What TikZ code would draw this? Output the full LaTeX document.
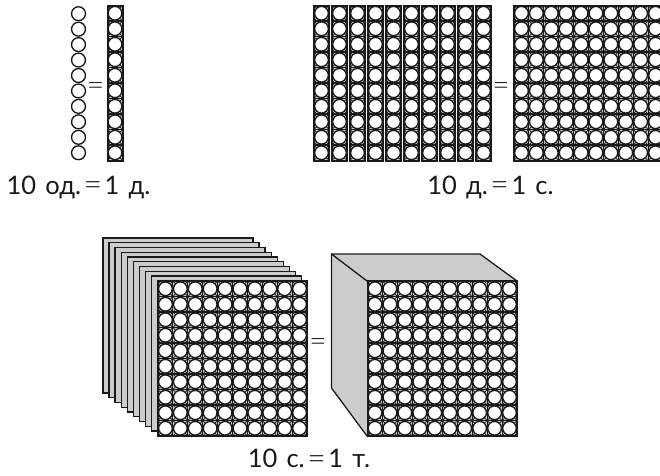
\documentclass[tikz,border=0pt]{standalone}
\usepackage{fontspec}
\setmainfont{Lato}
\newfontfamily\thinfont{Lato Light}
\tikzset{
  framed/.style={draw=black!90,line width=2pt},
  bead/.style={draw=black!90,line width=1.35pt,fill=white},
  sheet/.style={draw=black!90,line width=1.3pt,fill=black!20,line join=miter},
  cross/.style={draw=black!90,line width=0.7pt},
  label/.style={font=\fontsize{25.5}{28}\selectfont,text=black!90,inner sep=0pt,anchor=base},
  equal/.style={font=\thinfont\fontsize{30}{32}\selectfont,text=black!85,inner sep=0pt,anchor=base}
}
\newcommand{\wgap}{\hspace{.36em}}
\newcommand{\egap}{\hspace{.1em}}
\newcommand{\lighteq}{\raisebox{-1.6pt}{\thinfont\fontsize{32}{32}\selectfont =}}
% x0 y0 cols rows cellw cellh
\newcommand{\gridblock}[6]{%
  \fill[black!20] (#1,#2) rectangle ++({#3*#5},{#4*#6});
  \foreach \cx in {1,...,#3}{\foreach \cy in {1,...,#4}{%
    \pgfmathsetmacro{\xa}{#1+(\cx-1)*#5}\pgfmathsetmacro{\ya}{#2+(\cy-1)*#6}%
    \draw[cross] (\xa,\ya) -- ++(#5,#6) (\xa,\ya+#6) -- ++(#5,-#6);
    \draw[cross,line width=1.1pt] (\xa,\ya) -- ++(#5,0) (\xa,\ya) -- ++(0,#6);
  }}
  \foreach \cx in {1,...,#3}{\foreach \cy in {1,...,#4}{%
    \pgfmathsetmacro{\xa}{#1+(\cx-.5)*#5}\pgfmathsetmacro{\ya}{#2+(\cy-.5)*#6}%
    \draw[bead] (\xa,\ya) circle[radius=6.85];
  }}
  \draw[framed] (#1,#2) rectangle ++({#3*#5},{#4*#6});
}
\begin{document}
\begin{tikzpicture}[x=1pt,y=-1pt]
\clip (0,0) rectangle (660,475);
\fill[white] (0,0) rectangle (660,475);
% loose beads
\foreach \i in {0,...,9} \draw[bead] (78.5,{13.7+\i*15.45}) circle[radius=6.95];
\node[equal] (eqa) at (95.5,95) {=};
\gridblock{107.5}{5.5}{1}{10}{15}{15.5}
\node[label] (capa) at (78.5,194) {10\wgap од.\egap\lighteq\egap 1\wgap д.};
% ten bars
\foreach \i in {0,...,9} {\gridblock{\the\numexpr 314+\i*18\relax}{5.5}{1}{10}{15}{15.5}}
\node[equal] (eqb) at (501,95) {=};
\gridblock{514}{5.5}{10}{10}{14.9}{15.5}
\node[label] (capb) at (490.5,194) {10\wgap д.\egap\lighteq\egap 1\wgap с.};
% stack
\foreach \i in {0,...,8} {
  \pgfmathsetmacro{\sx}{103+\i*6.05}\pgfmathsetmacro{\sy}{238+\i*4.75}
  \draw[sheet] (\sx,\sy) rectangle ++(150,155);
}
\gridblock{158}{281}{10}{10}{14.9}{15.5}
\node[equal] (eqc) at (318,351) {=};
% cube
\draw[sheet] (331.5,254) -- (480,254) -- (517,281) -- (517,436) -- (367,436) -- (331.5,388) -- cycle;
\draw[sheet,fill=none] (331.5,254) -- (367,281);
\gridblock{367.5}{281}{10}{10}{14.95}{15.5}
\node[label] (capc) at (309,467.5) {10\wgap с.\egap\lighteq\egap 1\wgap т.};
\end{tikzpicture}
\end{document}
